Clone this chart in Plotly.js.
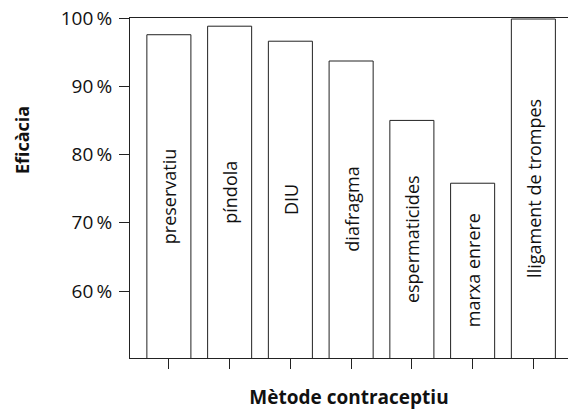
<!DOCTYPE html>
<html>
<head>
<meta charset="utf-8">
<script src="https://cdn.plot.ly/plotly-3.0.1.min.js"></script>
<style>html,body{margin:0;padding:0;background:#fff;}#chart{width:568px;height:412px;}</style>
</head>
<body>
<div id="chart"></div>
<script>
const categories = ["preservatiu", "píndola", "DIU", "diafragma", "espermaticides", "marxa enrere", "lligament de trompes"];
const efficacy = [97.55, 98.8, 96.6, 93.7, 85.0, 75.8, 99.85];
const yTickVals = [60, 70, 80, 90, 100];
const yTickText = ["60\u2009%", "70\u2009%", "80\u2009%", "90\u2009%", "100\u2009%"];
const yMin = 50.2, yMax = 100;

const FONT = "Open Sans, sans-serif";
const xIdx = categories.map((c, i) => i);

const trace = {
  type: "bar",
  x: xIdx,
  y: efficacy,
  width: 0.725,
  marker: {color: "#ffffff", line: {color: "#222", width: 1}},
  hoverinfo: "none"
};

// bar labels, rotated, centred in the visible part of each bar
const labelAnnots = categories.map((c, i) => ({
  text: c,
  xref: "x", yref: "y",
  x: i, y: (efficacy[i] + yMin) / 2,
  xanchor: "center", yanchor: "middle",
  textangle: -90, showarrow: false,
  font: {family: FONT, size: 18, color: "#111"}
}));

const layout = {
  width: 568, height: 412,
  margin: {l: 130, r: 0, t: 18, b: 54},
  paper_bgcolor: "#fff", plot_bgcolor: "#fff",
  showlegend: false,
  font: {family: FONT, color: "#111"},
  xaxis: {
    range: [-0.64, 6.57],
    tickvals: xIdx,
    ticktext: categories.map(() => ""),
    ticks: "outside", ticklen: 10, tickcolor: "#222", tickwidth: 1,
    showgrid: false, zeroline: false,
    showline: true, linecolor: "#222", linewidth: 1, mirror: true,
    title: {text: "<b>Mètode contraceptiu</b>", font: {family: FONT, size: 19, color: "#111"}, standoff: 20}
  },
  yaxis: {
    range: [yMin, yMax],
    tickvals: yTickVals,
    ticktext: yTickText,
    ticks: "outside", ticklen: 10, tickcolor: "#222", tickwidth: 1,
    ticklabelstandoff: 3,
    tickfont: {family: FONT, size: 19, color: "#111"},
    showgrid: false, zeroline: false,
    showline: true, linecolor: "#222", linewidth: 1,
    title: {text: ""}
  },
  annotations: labelAnnots.concat([{
    text: "<b>Eficàcia</b>",
    xref: "paper", yref: "paper",
    x: -0.245, y: 0.64,
    xanchor: "center", yanchor: "middle",
    textangle: -90, showarrow: false,
    font: {family: FONT, size: 18, color: "#111"}
  }])
};

Plotly.newPlot("chart", [trace], layout, {displayModeBar: false, staticPlot: true});
</script>
</body>
</html>
